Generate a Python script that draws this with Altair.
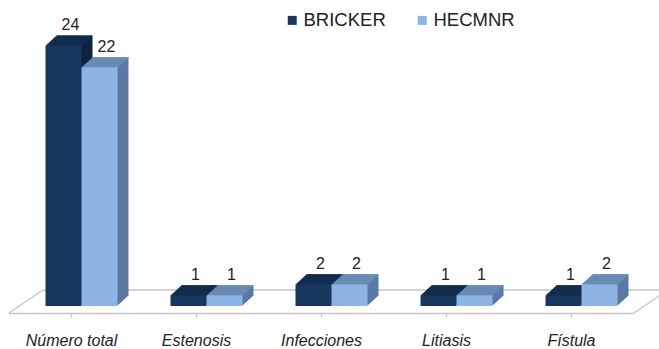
import altair as alt
import pandas as pd

# Chart data
categorias = ["Número total", "Estenosis", "Infecciones", "Litiasis", "Fístula"]
series = ["BRICKER", "HECMNR"]
bricker = [24, 1, 2, 1, 1]
hecmnr = [22, 1, 2, 1, 2]

# Face colours of the 3D boxes (front, top, side) for each series
color_frente = ["#17375E", "#8DB4E2"]
color_arriba = ["#132F51", "#6C8FBA"]
color_lado = ["#0E2440", "#5A7AA3"]

# Layout constants (pixels)
ANCHO, ALTO = 625, 304
BAR_W = 36
PROF_X, PROF_Y = 11, 10          # depth of each box
PASOS = 10                       # slices used to extrude the boxes
DESPLAZ = 10                     # front faces sit right of the band centre
SUELO_X, SUELO_DELANTE, SUELO_ATRAS = 34, 7, -16   # floor plane
FUENTE = "Liberation Sans"
GRIS_SUELO = "#c4c4c4"

filas = []
for i, c in enumerate(categorias):
    filas.append({"categoria": c, "serie": series[0], "valor": bricker[i]})
    filas.append({"categoria": c, "serie": series[1], "valor": hecmnr[i]})
df = pd.DataFrame(filas)

leyenda = alt.Legend(
    title=None, orient="none", direction="horizontal",
    legendX=274, legendY=9, symbolType="square", symbolSize=81,
    symbolStrokeWidth=0, symbolOpacity=1, labelFont=FUENTE, labelFontSize=18.5,
    labelColor="#222222", labelOffset=2, columnPadding=27,
)
color = alt.Color("serie:N", sort=series,
                  scale=alt.Scale(domain=series, range=color_frente), legend=leyenda)


def relleno(colores):
    return alt.Fill("serie:N", scale=alt.Scale(domain=series, range=colores), legend=None)


banda = ANCHO / len(categorias)
x = alt.X(
    "categoria:N", sort=categorias, title=None,
    scale=alt.Scale(paddingInner=0, paddingOuter=0),
    axis=alt.Axis(
        labelAngle=0, labelFont=FUENTE, labelFontSize=16, labelFontStyle="italic",
        labelColor="#222222", labelPadding=15, domainColor=GRIS_SUELO, domainWidth=1.3,
        tickColor=GRIS_SUELO, tickSize=4, tickWidth=1.3, offset=SUELO_DELANTE,
    ),
)
margen = (banda / BAR_W - 2) / 2
hueco = banda - 2 * BAR_W


def desplazado(px):
    # sub-band scale whose pair of bars is moved px to the right of centre
    return alt.XOffset(
        "serie:N", sort=series,
        scale=alt.Scale(type="band", paddingInner=0, paddingOuter=margen,
                        align=0.5 + px / hueco),
    )


y = alt.Y("valor:Q", scale=alt.Scale(domain=[0, 28]), axis=None)
base = alt.Chart(df)

# Floor plane
uno = alt.Chart(pd.DataFrame({"k": [0]}))
suelo = [
    uno.mark_rule(color=GRIS_SUELO, strokeWidth=1.3).encode(
        x=alt.value(0), y=alt.value(ALTO + SUELO_DELANTE),
        x2=alt.value(SUELO_X), y2=alt.value(ALTO + SUELO_ATRAS),
    ),
    uno.mark_rule(color=GRIS_SUELO, strokeWidth=1.3).encode(
        x=alt.value(SUELO_X), x2=alt.value(ANCHO + SUELO_X), y=alt.value(ALTO + SUELO_ATRAS),
    ),
    uno.mark_rule(color=GRIS_SUELO, strokeWidth=1.3).encode(
        x=alt.value(ANCHO), y=alt.value(ALTO + SUELO_DELANTE),
        x2=alt.value(ANCHO + SUELO_X), y2=alt.value(ALTO + SUELO_ATRAS),
    ),
]

dx_paso = PROF_X / PASOS
dy_paso = PROF_Y / PASOS

# Side faces: copies of each box pushed back step by step
lados = [
    base.mark_bar(yOffset=-k * dy_paso, y2Offset=-k * dy_paso).encode(
        x=x, xOffset=desplazado(DESPLAZ + k * dx_paso), y=y, fill=relleno(color_lado)
    )
    for k in range(PASOS, 0, -1)
]

# Top faces: one thin strip per step
tapas = [
    base.mark_bar(yOffset=-k * dy_paso, y2Offset=-(k - 1) * dy_paso).encode(
        x=x, xOffset=desplazado(DESPLAZ + k * dx_paso), y=y, y2=alt.Y2("valor:Q"),
        fill=relleno(color_arriba),
    )
    for k in range(PASOS, 0, -1)
]

# Front faces
frente = base.mark_bar().encode(x=x, xOffset=desplazado(DESPLAZ), y=y, color=color)

# Value labels above each box
etiquetas = base.mark_text(
    dy=-15, baseline="alphabetic", font=FUENTE, fontSize=16, color="#222222"
).encode(x=x, xOffset=desplazado(DESPLAZ + 7), y=y, text="valor:Q")

chart = alt.layer(*suelo, *lados, *tapas, frente, etiquetas).resolve_scale(
    xOffset="independent", fill="independent"
).properties(
    width=ANCHO, height=ALTO,
    padding={"left": 9, "top": 2, "right": 25, "bottom": 43},
    autosize=alt.AutoSizeParams(type="none"),
    background="white",
).configure_view(stroke=None)

chart.save("out.html", embed_options={"renderer": "svg", "actions": False})
